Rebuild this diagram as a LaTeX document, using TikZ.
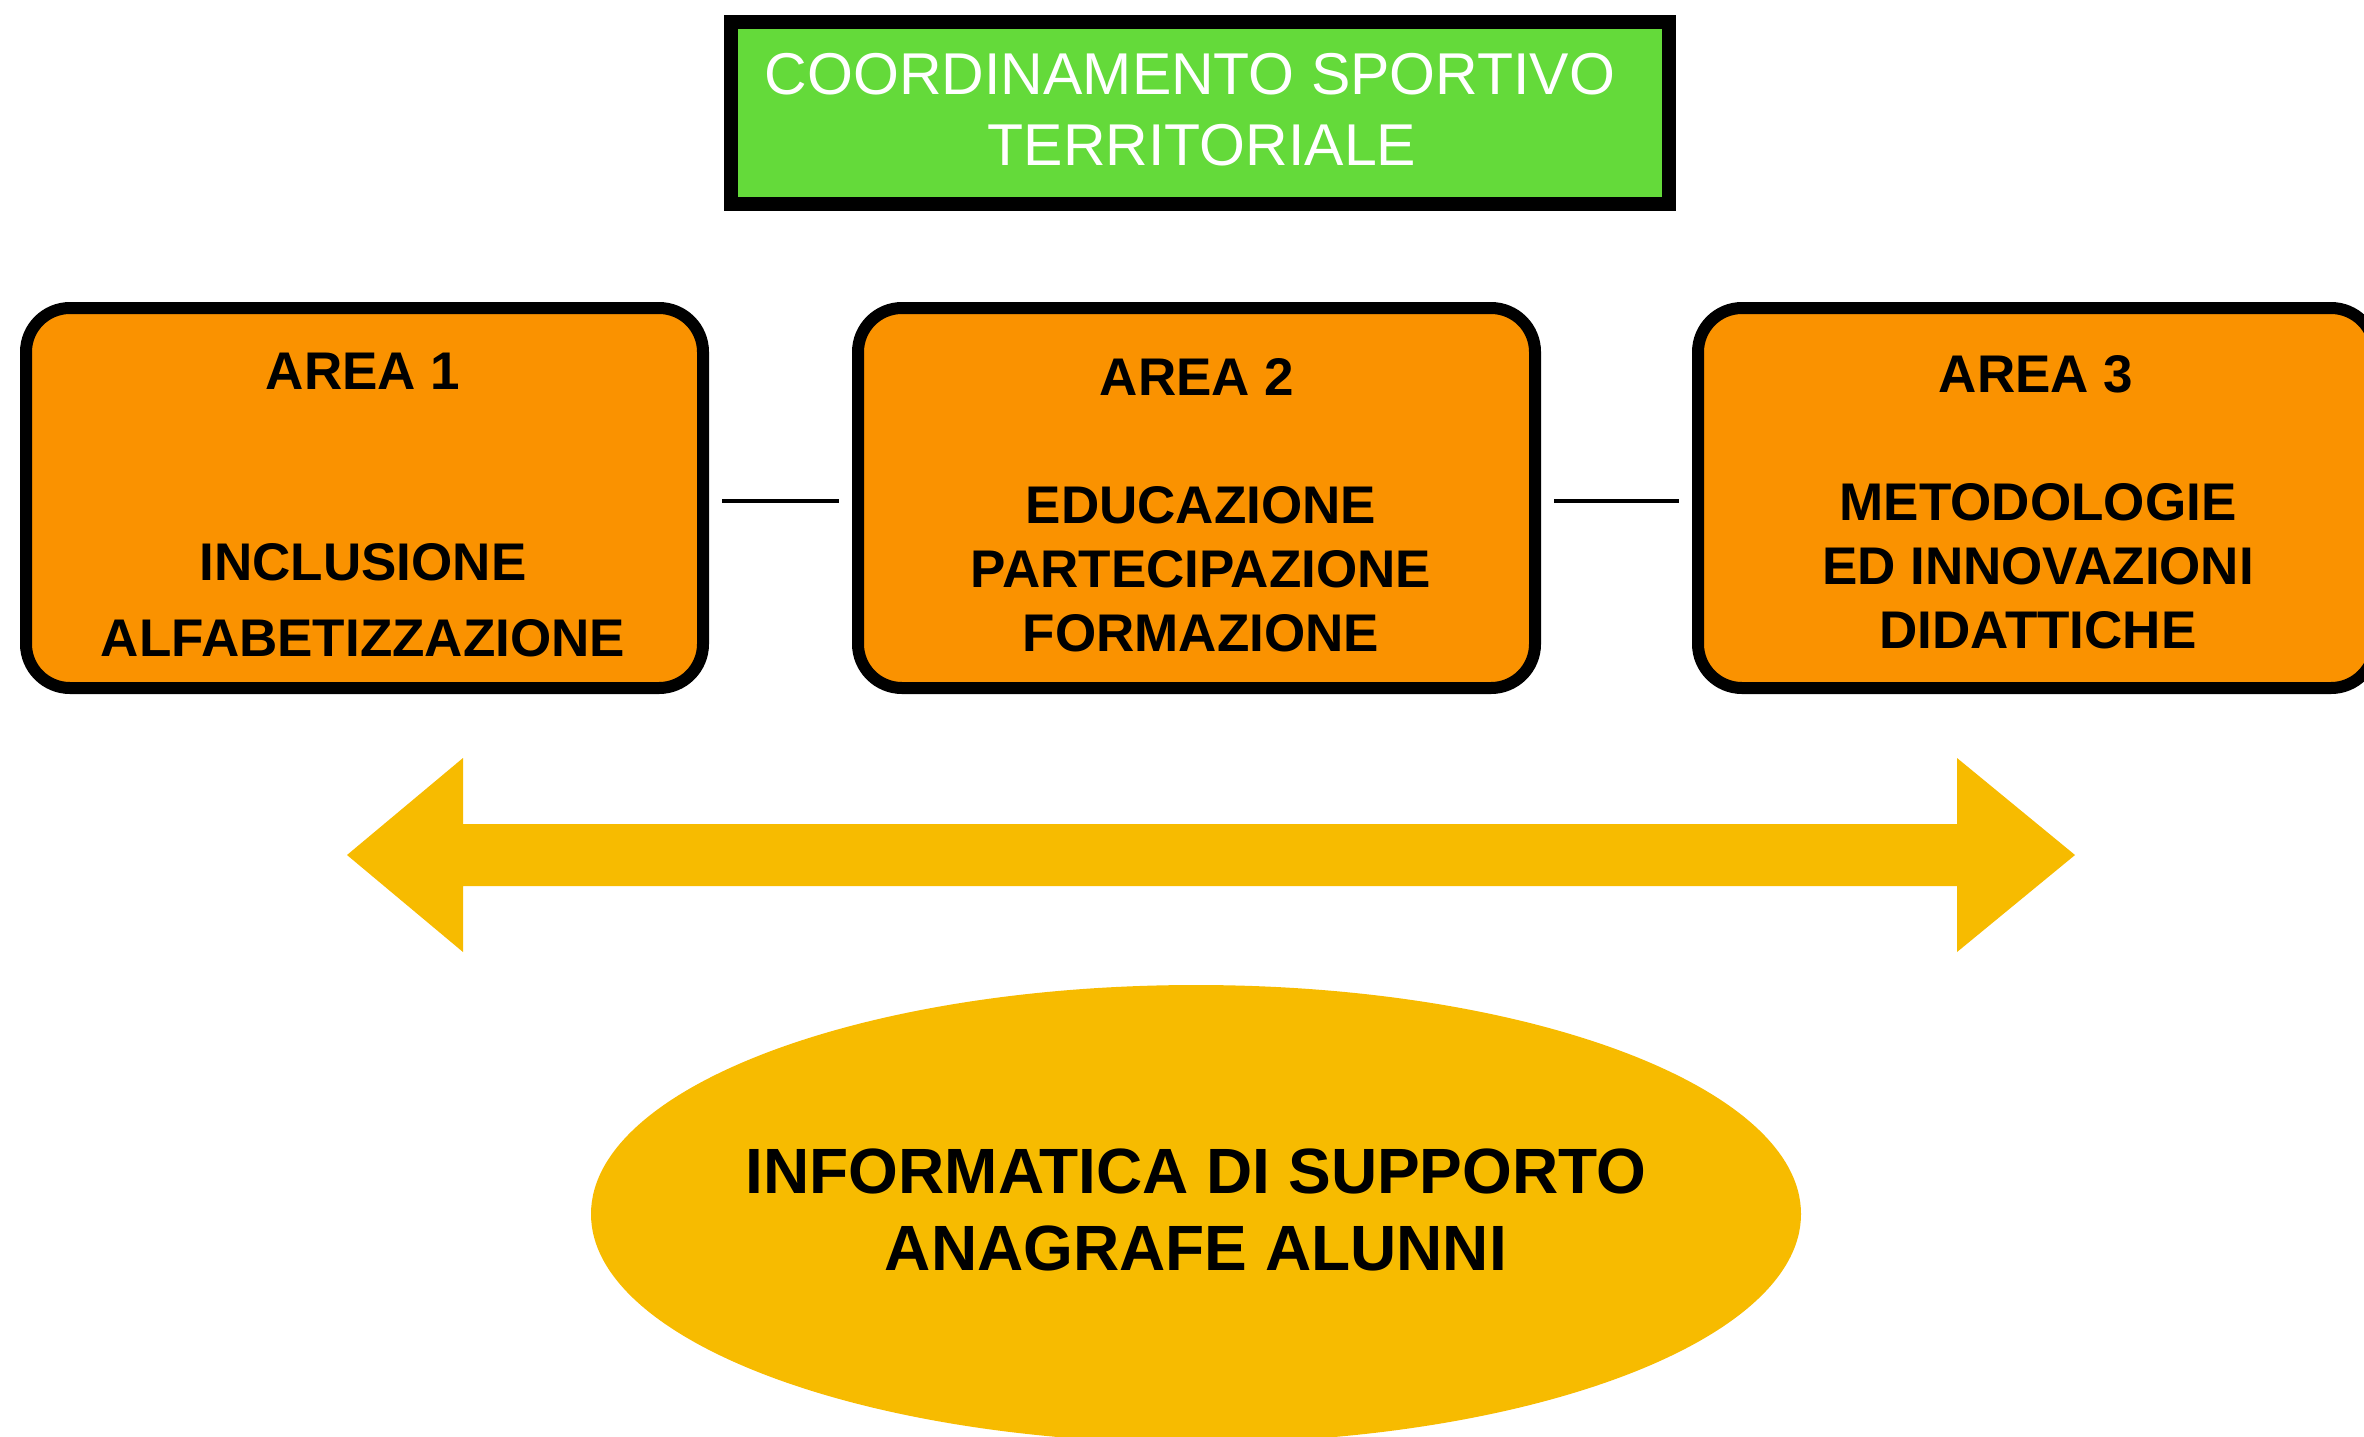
\documentclass[tikz,border=0pt]{standalone}
\usepackage{fontspec}
\setmainfont{Liberation Sans}
\usetikzlibrary{shapes.geometric}
\definecolor{topgreen}{RGB}{100,218,58}
\definecolor{areaorange}{RGB}{250,146,0}
\definecolor{gold}{RGB}{247,187,0}
\begin{document}
\begin{tikzpicture}[x=0.5pt,y=-0.5pt,
  areabox/.style={draw=black,line width=6pt,fill=areaorange,rounded corners=22pt,minimum width=338.5pt,minimum height=190pt,inner sep=0pt},
  areatitle/.style={font=\bfseries\fontsize{26.5}{32}\selectfont,align=center,inner sep=0pt},
  areabody/.style={font=\bfseries\fontsize{26.5}{32}\selectfont,align=center,inner sep=0pt},
  link/.style={line width=2.2pt,shorten <=6.5pt,shorten >=6.5pt}]
\useasboundingbox (0,0) rectangle (2364,1436);
\clip (0,0) rectangle (2364,1436);
% top box
\node[draw=black,line width=7pt,fill=topgreen,minimum width=469pt,minimum height=91pt,inner sep=0pt] (coord) at (1200,113) {};
\node[font=\fontsize{29.5}{35.5}\selectfont,text=white,align=center,inner sep=0pt] (coordtxt) at (1190,110) {COORDINAMENTO SPORTIVO\\\hspace*{12pt}TERRITORIALE};
% area boxes
\node[areabox] (a1) at (364.5,498) {};
\node[areabox] (a2) at (1196.5,498) {};
\node[areabox] (a3) at (2036.5,498) {};
\draw[link] ([yshift=-1.5pt]a1.east) -- ([yshift=-1.5pt]a2.west);
\draw[link] ([yshift=-1.5pt]a2.east) -- ([yshift=-1.5pt]a3.west);
\node[areatitle] (a1t) at (363,371) {AREA 1};
\node[areabody,font=\bfseries\fontsize{26.5}{38}\selectfont] (a1b) at (363,600) {INCLUSIONE\\ALFABETIZZAZIONE};
\node[areatitle] (a2t) at (1197,377) {AREA 2};
\node[areabody] (a2b) at (1201,569) {EDUCAZIONE\\PARTECIPAZIONE\\FORMAZIONE};
\node[areatitle] (a3t) at (2036,374) {AREA 3};
\node[areabody] (a3b) at (2038,566) {METODOLOGIE\\ED INNOVAZIONI\\DIDATTICHE};
% double arrow
\fill[gold] (347,855) -- (463,758) -- (463,824) -- (1957,824) -- (1957,758) -- (2075,855) -- (1957,952) -- (1957,886) -- (463,886) -- (463,952) -- cycle;
% ellipse
\node[ellipse,fill=gold,minimum width=605pt,minimum height=229pt,inner sep=0pt] (info) at (1196,1214) {};
\node[inner sep=0pt,font=\bfseries\fontsize{32}{38.5}\selectfont,align=center] (infotxt) at (1196,1210) {INFORMATICA DI SUPPORTO\\ANAGRAFE ALUNNI};
\end{tikzpicture}
\end{document}
